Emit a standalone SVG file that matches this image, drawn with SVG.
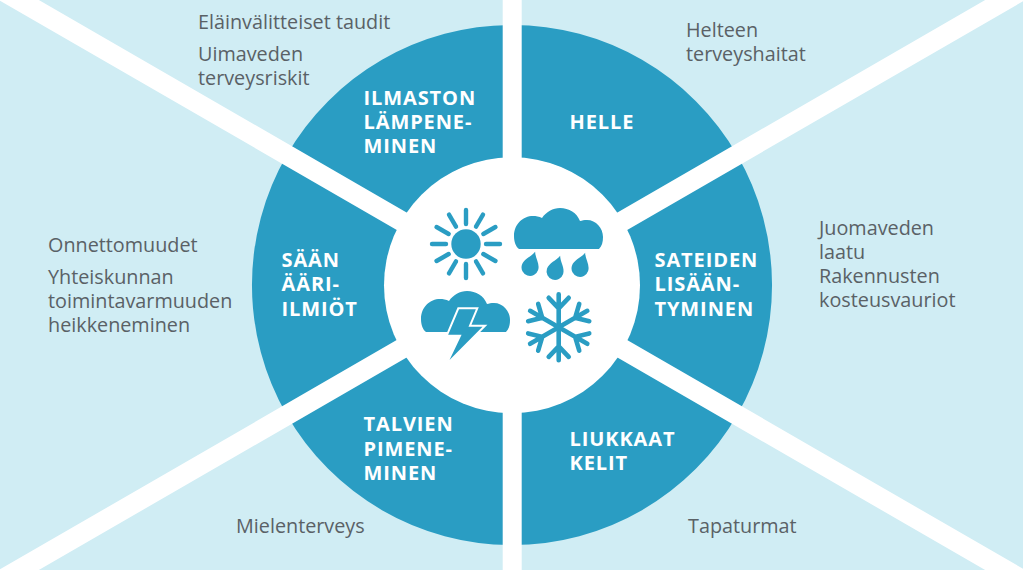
<svg xmlns="http://www.w3.org/2000/svg" xmlns:xlink="http://www.w3.org/1999/xlink" width="1023" height="570" viewBox="0 0 1023 570">
<style>
.seg{fill:#2a9dc3}
.lab{font-family:"Open Sans",sans-serif;font-weight:700;font-size:20px;letter-spacing:.9px;fill:#fff}
.t{font-family:"Open Sans",sans-serif;font-size:19.8px;fill:#5a6166}
.bar{stroke:#fff;fill:none}
.ic{fill:#2a9dc3}
.ray{stroke:#2a9dc3;stroke-width:4.4;stroke-linecap:round;fill:none}
.fl{stroke:#2a9dc3;stroke-width:4.6;stroke-linecap:round;fill:none}
</style>
<defs>
<path id="cloud" d="M5 41C2 39 0 34 0 28C0 16 9 8 19 8C22 8 25 8.500 28 10C32 4 39 0 46 0C55 0 63 5 66 13C68 12.500 70 12 73 12C82 12 89 20 89 29C89 34 88 38 85 41Z"/>
<path id="drop" d="M0 -15C-2 -9 -8.500 -5 -8.500 1.500A8.500 8.500 0 0 0 8.500 1.500C8.500 -5 2 -9 0 -15Z"/>
<g id="arm"><path class="fl" d="M0 0V-33M-10 -29.500L0 -19L10 -29.500"/></g>
</defs>
<rect id="background" width="1023" height="570" fill="#d0edf4"/>
<g id="segment-helle"><path class="seg" d="M512 25A260 260 0 0 1 737.200 155L622 221.500A127 127 0 0 0 512 158Z"/><text class="lab" x="569.500" y="129">HELLE</text></g>
<g id="segment-sateiden"><path class="seg" d="M737.200 155A260 260 0 0 1 737.200 415L622 348.500A127 127 0 0 0 622 221.500Z"/><text class="lab"><tspan x="654.500" y="267">SATEIDEN</tspan><tspan x="654.500" y="291">LISÄÄN-</tspan><tspan x="654.500" y="316">TYMINEN</tspan></text></g>
<g id="segment-liukkaat"><path class="seg" d="M737.200 415A260 260 0 0 1 512 545L512 412A127 127 0 0 0 622 348.500Z"/><text class="lab"><tspan x="569.500" y="446">LIUKKAAT</tspan><tspan x="569.500" y="470">KELIT</tspan></text></g>
<g id="segment-talvien"><path class="seg" d="M512 545A260 260 0 0 1 286.800 415L402 348.500A127 127 0 0 0 512 412Z"/><text class="lab"><tspan x="363.500" y="431">TALVIEN</tspan><tspan x="363.500" y="456">PIMENE-</tspan><tspan x="363.500" y="480">MINEN</tspan></text></g>
<g id="segment-saan"><path class="seg" d="M286.800 415A260 260 0 0 1 286.800 155L402 221.500A127 127 0 0 0 402 348.500Z"/><text class="lab"><tspan x="281.500" y="267">SÄÄN</tspan><tspan x="281.500" y="291">ÄÄRI-</tspan><tspan x="281.500" y="316">ILMIÖT</tspan></text></g>
<g id="segment-ilmaston"><path class="seg" d="M286.800 155A260 260 0 0 1 512 25L512 158A127 127 0 0 0 402 221.500Z"/><text class="lab"><tspan x="363.500" y="104.500">ILMASTON</tspan><tspan x="363.500" y="128.500">LÄMPENE-</tspan><tspan x="363.500" y="152.500">MINEN</tspan></text></g>
<g id="connectors">
<path class="bar" stroke-width="19" d="M512.200 0V570"/>
<path class="bar" stroke-width="20" d="M-40 -34L1064 604M1064 -34L-40 604"/>
</g>
<circle id="hub" cx="512" cy="285.300" r="128" fill="#fff"/>
<g id="icon-sun">
<circle class="ic" cx="466" cy="244" r="14.700"/>
<g class="ray" transform="translate(466 244)">
<path d="M0 -20V-34"/><path d="M0 -20V-34" transform="rotate(30)"/><path d="M0 -20V-34" transform="rotate(60)"/><path d="M0 -20V-34" transform="rotate(90)"/><path d="M0 -20V-34" transform="rotate(120)"/><path d="M0 -20V-34" transform="rotate(150)"/><path d="M0 -20V-34" transform="rotate(180)"/><path d="M0 -20V-34" transform="rotate(210)"/><path d="M0 -20V-34" transform="rotate(240)"/><path d="M0 -20V-34" transform="rotate(270)"/><path d="M0 -20V-34" transform="rotate(300)"/><path d="M0 -20V-34" transform="rotate(330)"/>
</g>
</g>
<g id="icon-rain">
<use href="#cloud" class="ic" x="514" y="208"/>
<use href="#drop" class="ic" transform="translate(530.500 266) rotate(18)"/>
<use href="#drop" class="ic" transform="translate(555.500 270) rotate(18)"/>
<use href="#drop" class="ic" transform="translate(580.500 267) rotate(18)"/>
</g>
<g id="icon-storm">
<use href="#cloud" class="ic" x="421" y="291"/>
<path class="ic" stroke="#fff" stroke-width="2" d="M458.300 308.300H477.300L470 325.700H485L446 365L460 335.700H446.700Z"/>
</g>
<g id="icon-snow" transform="translate(558.700 327.300)">
<use href="#arm"/><use href="#arm" transform="rotate(60)"/><use href="#arm" transform="rotate(120)"/><use href="#arm" transform="rotate(180)"/><use href="#arm" transform="rotate(240)"/><use href="#arm" transform="rotate(300)"/>
</g>
<g id="note-ilmaston"><text class="t"><tspan x="198" y="29">Eläinvälitteiset taudit</tspan><tspan x="198" y="61">Uimaveden</tspan><tspan x="198" y="85">terveysriskit</tspan></text></g>
<g id="note-helle"><text class="t"><tspan x="686" y="37">Helteen</tspan><tspan x="686" y="61">terveyshaitat</tspan></text></g>
<g id="note-sateiden"><text class="t"><tspan x="819" y="235">Juomaveden</tspan><tspan x="819" y="259">laatu</tspan><tspan x="819" y="283">Rakennusten</tspan><tspan x="819" y="307">kosteusvauriot</tspan></text></g>
<g id="note-saan"><text class="t"><tspan x="48" y="252">Onnettomuudet</tspan><tspan x="48" y="284">Yhteiskunnan</tspan><tspan x="48" y="308">toimintavarmuuden</tspan><tspan x="48" y="332">heikkeneminen</tspan></text></g>
<g id="note-talvien"><text class="t" x="236" y="533">Mielenterveys</text></g>
<g id="note-liukkaat"><text class="t" x="688" y="533">Tapaturmat</text></g>
</svg>
